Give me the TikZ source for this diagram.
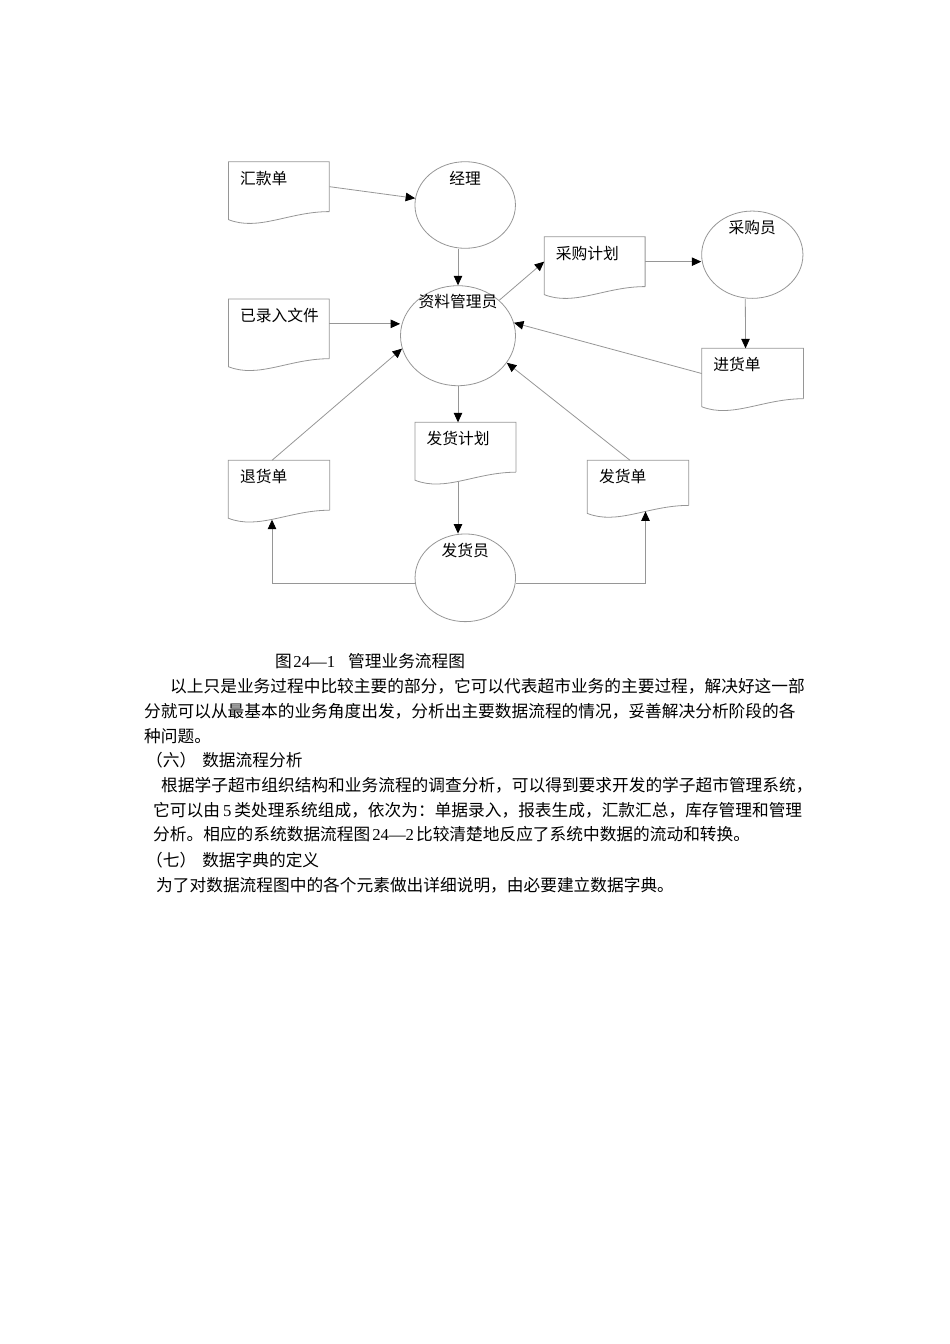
\documentclass[tikz,border=0pt]{standalone}
\usepackage{fontspec}
\setmainfont{Liberation Serif}
\newfontfamily\cjk{Noto Sans CJK SC}
\usepackage{tikz}
\usetikzlibrary{positioning,shapes.geometric,arrows.meta,calc}
\usepackage{xcolor}
\definecolor{linegray}{RGB}{150,150,150}
\XeTeXlinebreaklocale "zh"
\XeTeXlinebreakskip=0pt plus 3pt

\tikzset{
  outline/.style={draw=linegray, line width=0.8pt},
  doc/.style={rectangle, inner sep=0pt, anchor=north west, minimum width=100.5pt, minimum height=49.5pt},
  doclabel/.style={anchor=west, inner sep=0pt, shift={(11.5,16.5)}, font=\cjk\fontsize{15.75}{18}\selectfont},
  proc/.style={ellipse, outline, inner sep=0pt, minimum width=100.5pt, minimum height=87pt},
  proclabel/.style={anchor=center, inner sep=0pt, shift={(0,17)}, font=\cjk\fontsize{15.75}{18}\selectfont},
  flow/.style={outline, -{Triangle[length=9.5pt,width=8.5pt,black]}},
  body/.style={anchor=west, inner sep=0pt, font=\cjk\fontsize{16.7}{20}\selectfont}
}
\newcommand{\docshape}[1]{%
  \draw[outline] (#1.south east) -- (#1.north east) -- (#1.north west) -- ($(#1.south west)+(0,8)$)
    .. controls ($(#1.south west)+(30.15,20)$) and ($(#1.south east)+(-40.2,0)$) .. (#1.south east);}
\newcommand{\lat}{\rmfamily}

\begin{document}
\begin{tikzpicture}[x=1pt,y=-1pt]
    \useasboundingbox (0,0) rectangle (950,1344);
    % documents
    \node[doc, label={[doclabel]north west:汇款单}] (hkd) at (228.4,161.7) {};
    \node[doc, minimum height=59.3pt, label={[doclabel]north west:已录入文件}] (ylr) at (228.4,299) {};
    \node[doc, label={[doclabel]north west:采购计划}] (cgjh) at (544.2,236.7) {};
    \node[doc, minimum width=101.3pt, minimum height=50pt, label={[doclabel]north west:进货单}] (jhd) at (701.7,348.3) {};
    \node[doc, label={[doclabel]north west:发货计划}] (fhjh) at (415,422.3) {};
    \node[doc, minimum width=101pt, label={[doclabel]north west:退货单}] (thd) at (228.3,460.3) {};
    \node[doc, minimum width=101pt, minimum height=44.7pt, label={[doclabel]north west:发货单}] (fhd) at (587.3,460.3) {};
    \foreach \d in {hkd,ylr,cgjh,jhd,fhjh,thd,fhd}
        \docshape{\d};
    % people
    \node[proc, minimum height=86.6pt, label={[proclabel]north:经理}] (jl) at (465.2,205) {};
    \node[proc, minimum width=101.3pt, minimum height=87.3pt, label={[proclabel]north:采购员}] (cgy) at (752.3,254.7) {};
    \node[proc, minimum width=115pt, minimum height=100pt, label={[proclabel, shift={(0,-1)}]north:资料管理员}] (zlgly) at (458,335.7) {};
    \node[proc, minimum height=87.7pt, label={[proclabel]north:发货员}] (fhy) at (465.3,577.8) {};
    % flows
    \draw[flow] (hkd.east) -- (jl);
    \draw[flow] (jl.south -| zlgly.north) -- (zlgly.north);
    \draw[flow] (zlgly) -- (cgjh.west);
    \draw[flow] (cgjh.east) -- (cgjh.east -| cgy.west);
    \draw[flow] ([xshift=-7pt]cgy.south) -- ([xshift=-7pt]jhd.north);
    \draw[flow] ([yshift=5pt]ylr.east) -- ([yshift=5pt]ylr.east -| zlgly.west);
    \draw[flow] (jhd.west) -- (zlgly.13);
    \draw[flow] ([xshift=-7pt]thd.north) -- (zlgly.193);
    \draw[flow] ([xshift=-8pt]fhd.north) -- (zlgly.-29);
    \draw[flow] (zlgly.south) -- (zlgly.south |- fhjh.north);
    \draw[flow] ([yshift=-9.5pt]fhjh.south -| zlgly.south) -- (fhy.north -| zlgly.south);
    \draw[flow] ([yshift=-6pt]fhy.west) -| ([xshift=-7pt,yshift=-9.5pt]thd.south);
    \draw[flow] ([yshift=-6pt]fhy.east) -| ([xshift=7.5pt,yshift=-6pt]fhd.south);
    % caption and text
    \node[body] (cap) at (275,660.7) {图\hspace{1.5pt}{\lat 24—1}\hspace{13pt}管理业务流程图};
    \node[body] (l1) at (170,686.7) {\makebox[636pt][s]{以上只是业务过程中比较主要的部分，它可以代表超市业务的主要过程，解决好这一部}};
    \node[body] (l2) at (144,711) {\makebox[661pt][s]{分就可以从最基本的业务角度出发，分析出主要数据流程的情况，妥善解决分析阶段的各}};
    \node[body] (l3) at (144,735.7) {种问题。};
    \node[body] (l4) at (146,760) {（六）\hspace{6pt}数据流程分析};
    \node[body] (l5) at (161,785.7) {\makebox[663pt][s]{根据学子超市组织结构和业务流程的调查分析，可以得到要求开发的学子超市管理系统，}};
    \node[body] (l6) at (153,810.7) {\makebox[652pt][s]{它可以由\hspace{3pt}{\lat 5}\hspace{3pt}类处理系统组成，依次为：单据录入，报表生成，汇款汇总，库存管理和管理}};
    \node[body] (l7) at (153,834.3) {分析。相应的系统数据流程图\hspace{2pt}{\lat 24—2}\hspace{2pt}比较清楚地反应了系统中数据的流动和转换。};
    \node[body] (l8) at (146,860) {（七）\hspace{6pt}数据字典的定义};
    \node[body] (l9) at (156,885) {为了对数据流程图中的各个元素做出详细说明，由必要建立数据字典。};
\end{tikzpicture}
\end{document}
